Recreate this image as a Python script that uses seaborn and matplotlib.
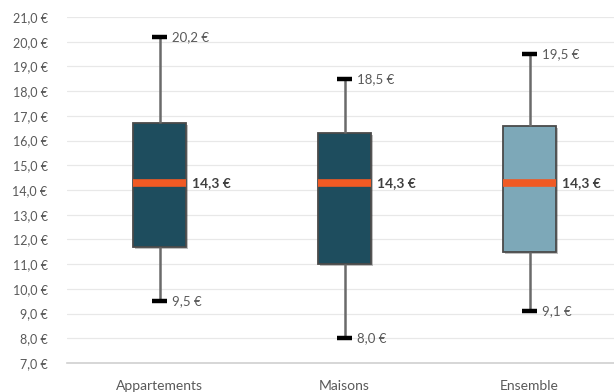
import numpy as np
import pandas as pd
import matplotlib
matplotlib.use("Agg")
import matplotlib.pyplot as plt
import matplotlib.patheffects as pe
import seaborn as sns

# Loyers au m² : statistiques par type de logement
categories = ["Appartements", "Maisons", "Ensemble"]
minimums = [9.5, 8.0, 9.1]
q1 = [11.7, 11.0, 11.5]
medians = [14.3, 14.3, 14.3]
q3 = [16.7, 16.3, 16.6]
maximums = [20.2, 18.5, 19.5]
box_colors = ["#1E4D5E", "#1E4D5E", "#7DA8B8"]
y_ticks = np.arange(7, 22, 1)

def euro(v):
    return f"{v:.1f}".replace(".", ",") + " €"

# Five summary values per group give exactly these quartiles and whisker ends
rows = []
for cat, a, b, c, d, e in zip(categories, minimums, q1, medians, q3, maximums):
    for v in (a, b, c, d, e):
        rows.append({"type": cat, "loyer": v})
df = pd.DataFrame(rows)

sns.set_theme(style="white")
plt.rcParams["font.family"] = ["Lato", "DejaVu Sans"]

fig = plt.figure(figsize=(6.14, 3.92), dpi=100)
ax = fig.add_axes([67 / 614, 29 / 392, 555 / 614, 346 / 392])

box_w = 0.29
cap_w = 0.08
sns.boxplot(
    data=df, x="type", y="loyer", hue="type", order=categories,
    palette=box_colors, saturation=1, legend=False, width=box_w, whis=(0, 100),
    linecolor="#4A4A4A", linewidth=1.3, ax=ax,
    medianprops=dict(color="#F05A24", linewidth=5.5, solid_capstyle="butt"),
    whiskerprops=dict(color="#6A6A6A", linewidth=1.8),
    capprops=dict(color="#000000", linewidth=3.2, solid_capstyle="butt"),
    capwidths=cap_w,
)

for p in ax.patches:
    p.set_path_effects([pe.SimplePatchShadow(offset=(1.5, -1.5), alpha=0.25, shadow_rgbFace="#000000"), pe.Normal()])

ax.set_xlim(-0.5, 2.5)
ax.set_ylim(7, 21)
ax.set_yticks(y_ticks)
ax.set_yticklabels([euro(v) for v in y_ticks])
ax.yaxis.grid(True, color="#E8E8E8", linewidth=0.9)
ax.set_axisbelow(True)
ax.tick_params(axis="y", length=0, pad=14, labelsize=9, labelcolor="#595959")
ax.tick_params(axis="x", length=0, pad=12.5, labelsize=10, labelcolor="#595959")
ax.set_xlabel("")
ax.set_ylabel("")
for s in ["top", "right", "left"]:
    ax.spines[s].set_visible(False)
ax.spines["bottom"].set_color("#D0D0D0")
ax.spines["bottom"].set_linewidth(1.2)

for i in range(len(categories)):
    for v in (maximums[i], minimums[i]):
        ax.annotate(euro(v), (i + cap_w / 2, v), xytext=(3.5, 0), textcoords="offset points",
                    ha="left", va="center", fontsize=9.5, color="#595959")
    ax.annotate(euro(medians[i]), (i + box_w / 2, medians[i]), xytext=(4, 0),
                textcoords="offset points", ha="left", va="center", fontsize=10,
                fontweight="bold", color="#404040")

fig.savefig("out.png", dpi=100)
